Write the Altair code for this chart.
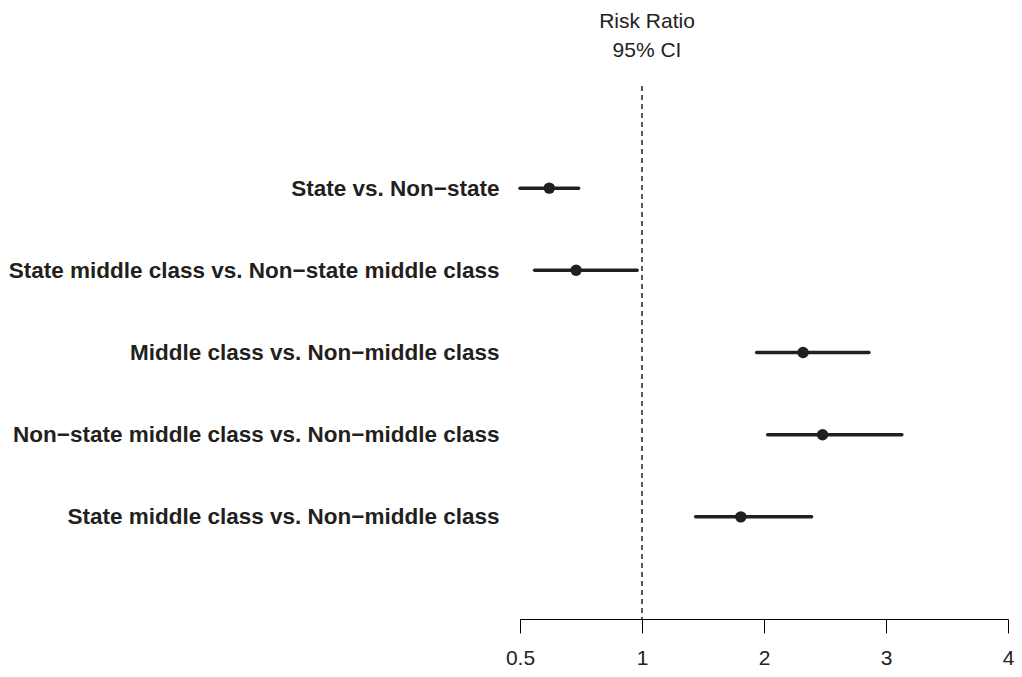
import json
import altair as alt
import pandas as pd

labels = [
    "State vs. Non\u2212state",
    "State middle class vs. Non\u2212state middle class",
    "Middle class vs. Non\u2212middle class",
    "Non\u2212state middle class vs. Non\u2212middle class",
    "State middle class vs. Non\u2212middle class",
]
rr = [0.62, 0.73, 2.32, 2.48, 1.81]
lo = [0.50, 0.56, 1.94, 2.03, 1.44]
hi = [0.74, 0.98, 2.86, 3.13, 2.39]
tick_vals = [0.5, 1, 2, 3, 4]
ref_val = [1]

df = pd.DataFrame({"label": labels, "row": list(range(len(labels))), "rr": rr, "lo": lo, "hi": hi})
ref = pd.DataFrame({"x": ref_val})

W = 488
H = 533
INK = "#231f20"
FONT = "Liberation Sans"
PAD = 1.243
n = len(labels)

xscale = alt.Scale(domain=tick_vals, range=[i * W / 4 for i in range(5)], zero=False, nice=False)
yscale = alt.Scale(domain=[-PAD, n - 1 + PAD], reverse=True, zero=False, nice=False)

base = alt.Chart(df)

bars = base.mark_rule(color=INK, strokeWidth=3.5, strokeCap="round").encode(
    x=alt.X("lo:Q", scale=xscale, axis=alt.Axis(
        values=tick_vals, title=None, grid=False, domainColor="black", tickColor="black",
        tickSize=14, domainWidth=1, tickWidth=1, labelFontSize=21, labelFont=FONT,
        labelColor="#222222", labelPadding=14, labelFlush=False,
        labelExpr="datum.value == 0.5 ? '0.5' : format(datum.value, 'd')")),
    x2="hi:Q",
    y=alt.Y("row:Q", scale=yscale, axis=alt.Axis(
        values=list(range(n)), title=None, domain=False, ticks=False, grid=False,
        labelFontSize=22.5, labelFont=FONT, labelFontWeight="bold", labelColor=INK,
        labelPadding=21, labelLimit=0, labelFlush=False,
        labelExpr=json.dumps(labels) + "[datum.value]")),
)

pts = base.mark_point(filled=True, shape="circle", size=130, color=INK, opacity=1).encode(
    x=alt.X("rr:Q", scale=xscale),
    y=alt.Y("row:Q", scale=yscale),
)

rule = alt.Chart(ref).mark_rule(color="black", strokeWidth=1.3, strokeDash=[5, 4]).encode(
    x=alt.X("x:Q", scale=xscale),
)

chart = alt.layer(rule, bars, pts).properties(
    width=W, height=H,
    background="white",
    title=alt.TitleParams(text=["Risk Ratio", "95% CI"], anchor="middle", dx=-(W / 4) + 5,
                          fontSize=21, fontWeight="normal", font=FONT, color="#222222",
                          lineHeight=29, offset=24),
    autosize=alt.AutoSizeParams(type="none"),
    padding={"left": 512, "top": 78, "right": 6, "bottom": 50},
).configure_view(stroke=None, strokeWidth=0)

chart.save("out.html", embed_options={"renderer": "svg", "actions": False})
